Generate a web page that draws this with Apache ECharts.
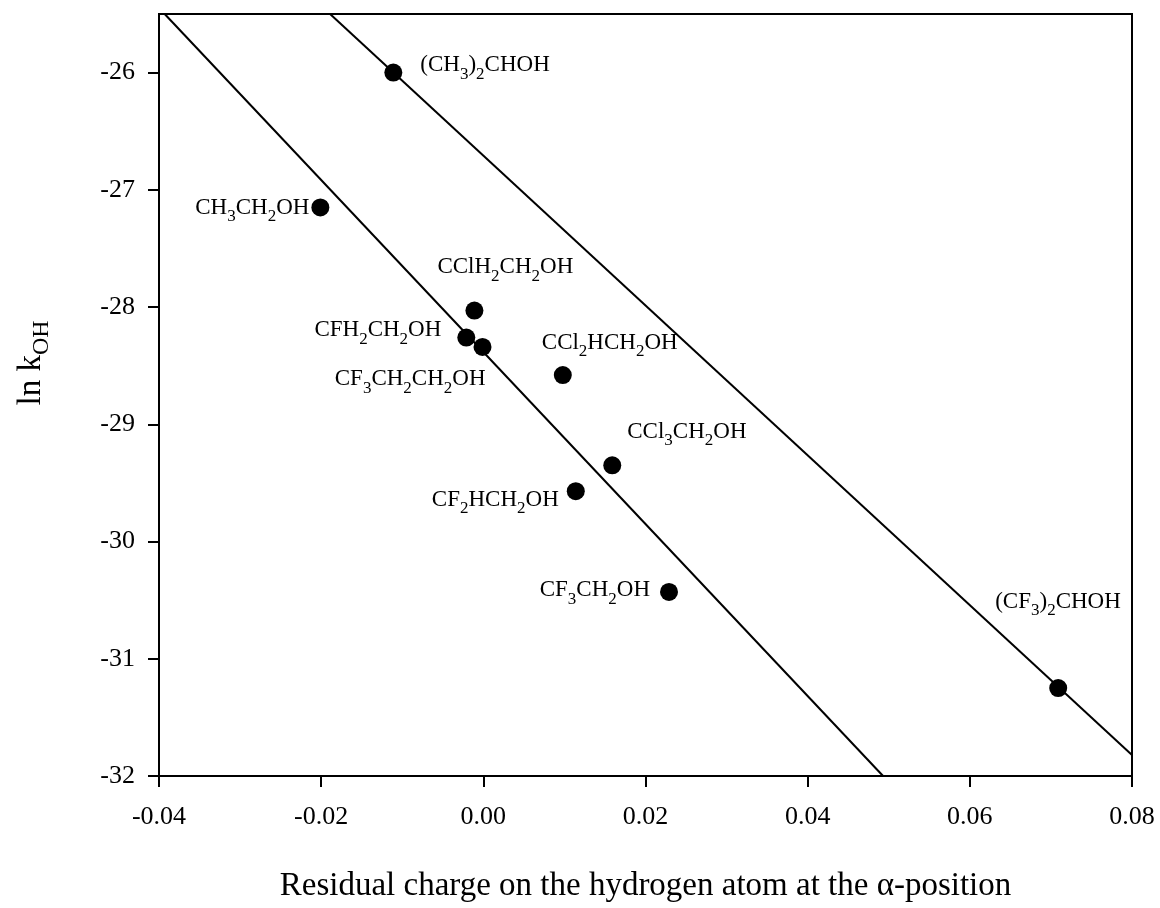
<!DOCTYPE html>
<html>
<head>
<meta charset="utf-8">
<script src="https://cdn.jsdelivr.net/npm/echarts@6/dist/echarts.min.js"></script>
<style>
  html, body { margin: 0; padding: 0; background: #fff; }
  #chart { width: 1160px; height: 908px; }
</style>
</head>
<body>
<div id="chart"></div>
<script>
// compounds, '_' marks a subscript digit
const names = ['(CH_3)_2CHOH', 'CH_3CH_2OH', 'CClH_2CH_2OH', 'CFH_2CH_2OH', 'CF_3CH_2CH_2OH',
  'CCl_2HCH_2OH', 'CCl_3CH_2OH', 'CF_2HCH_2OH', 'CF_3CH_2OH', '(CF_3)_2CHOH']
const charge = [-0.0111, -0.0201, -0.0011, -0.0021, -0.0001, 0.0098, 0.0159, 0.0114, 0.0229, 0.0709]
const lnK = [-26.00, -27.15, -28.03, -28.26, -28.34, -28.58, -29.35, -29.57, -30.43, -31.25]

// the two fitted lines (end points)
const fitAx = [-0.0393, 0.0493]
const fitAy = [-25.5, -32]
const fitBx = [-0.0189, 0.08]
const fitBy = [-25.5, -31.82]

const yTicks = [-32, -31, -30, -29, -28, -27, -26]

// label placement per compound: [align, dx, dy]
const labelPlace = [
  ['left', 27, -19], ['right', -11, -11], ['left', -37, -55], ['right', -25, -19], ['right', 3, 21],
  ['left', -21, -44], ['left', 15, -45], ['right', -17, -3], ['right', -19, -13], ['left', -63, -98]
]

const font = 'Liberation Serif'

function sub(txt) {
  return txt.split(/(_\d)/).filter(s => s).map(s =>
    s[0] === '_' ? '{s|' + s.slice(1) + '}' : '{m|' + s + '}').join('')
}

const richLabel = {
  m: { fontFamily: font, fontSize: 23, lineHeight: 23, color: '#000', verticalAlign: 'top' },
  s: { fontFamily: font, fontSize: 17, lineHeight: 17, color: '#000', verticalAlign: 'top', padding: [12, 0, 0, 0] }
}

const chart = echarts.init(document.getElementById('chart'))

chart.setOption({
  animation: false,
  grid: { left: 159, right: 28, top: 14, bottom: 130, show: true, borderColor: '#000', borderWidth: 2 },
  xAxis: {
    type: 'value',
    min: -0.04,
    max: 0.08,
    interval: 0.02,
    name: 'Residual charge on the hydrogen atom at the α-position',
    nameLocation: 'middle',
    nameGap: 94,
    nameTextStyle: { fontFamily: font, fontSize: 33, color: '#000' },
    axisLine: { onZero: false, lineStyle: { color: '#000', width: 2 } },
    axisTick: { length: 11, lineStyle: { color: '#000', width: 2 } },
    axisLabel: {
      margin: 28, fontFamily: font, fontSize: 26, color: '#000',
      formatter: v => (Math.abs(v) < 1e-9 ? 0 : v).toFixed(2)
    },
    splitLine: { show: false }
  },
  yAxis: {
    type: 'value',
    min: -32,
    max: -25.5,
    interval: 1,
    name: '{m|ln k}{s|OH}',
    nameLocation: 'middle',
    nameRotate: 90,
    nameGap: 111,
    nameTextStyle: {
      padding: [0, 0, 0, 64],
      rich: {
        m: { fontFamily: font, fontSize: 33, lineHeight: 33, color: '#000', verticalAlign: 'top' },
        s: { fontFamily: font, fontSize: 24, lineHeight: 24, color: '#000', verticalAlign: 'top', padding: [15, 0, 0, 0] }
      }
    },
    axisLine: { onZero: false, lineStyle: { color: '#000', width: 2 } },
    axisTick: { length: 11, customValues: yTicks, lineStyle: { color: '#000', width: 2 } },
    axisLabel: { margin: 24, fontFamily: font, fontSize: 26, color: '#000', customValues: yTicks },
    splitLine: { show: false }
  },
  series: [
    {
      type: 'line',
      data: fitAx.map((x, i) => [x, fitAy[i]]),
      symbol: 'none',
      lineStyle: { color: '#000', width: 2 },
      silent: true
    },
    {
      type: 'line',
      data: fitBx.map((x, i) => [x, fitBy[i]]),
      symbol: 'none',
      lineStyle: { color: '#000', width: 2 },
      silent: true
    },
    {
      type: 'scatter',
      symbol: 'circle',
      symbolSize: 18,
      itemStyle: { color: '#000', opacity: 1 },
      z: 5,
      data: charge.map((x, i) => ({
        value: [x, lnK[i]],
        label: {
          show: true,
          position: 'inside',
          color: '#000',
          align: labelPlace[i][0],
          verticalAlign: 'top',
          offset: [labelPlace[i][1], labelPlace[i][2]],
          formatter: sub(names[i]),
          rich: richLabel
        }
      }))
    }
  ]
})
</script>
</body>
</html>
